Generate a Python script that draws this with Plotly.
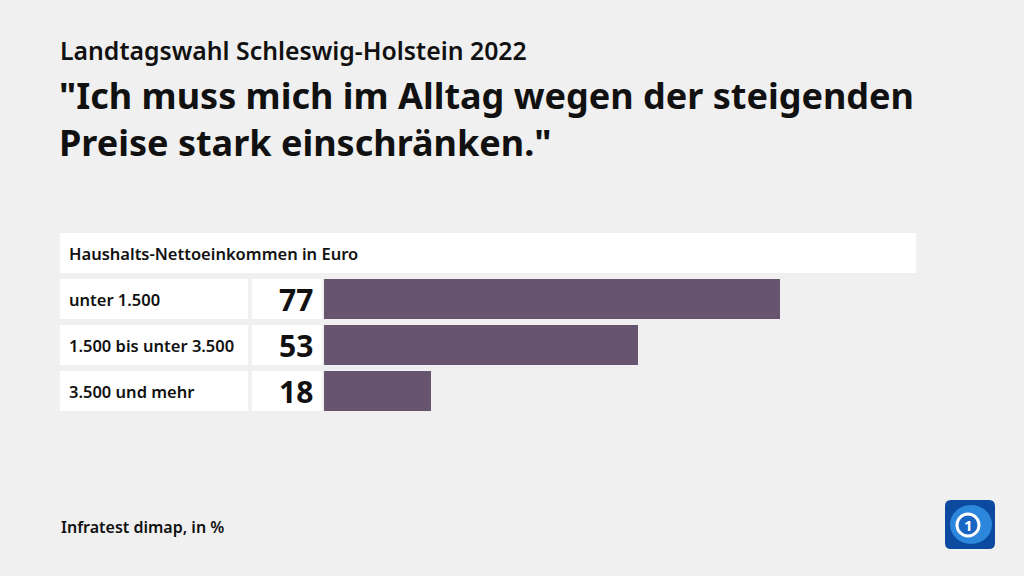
import plotly.graph_objects as go

categories = ["unter 1.500", "1.500 bis unter 3.500", "3.500 und mehr"]
values = [77, 53, 18]
group_label = "Haushalts-Nettoeinkommen in Euro"
supertitle = "Landtagswahl Schleswig-Holstein 2022"
title_lines = ["\"Ich muss mich im Alltag wegen der steigenden", "Preise stark einschränken.\""]
source = "Infratest dimap, in %"

W, H = 1024, 576
BG = "#f0f0f0"
BAR = "#67546f"
FONT = "Noto Sans"

def px(x):
    return x / W

def py(y):
    return 1 - y / H

fig = go.Figure()
fig.add_trace(go.Bar(
    x=values, y=categories, orientation="h",
    marker=dict(color=BAR, line=dict(width=0)),
    width=40 / 46, hoverinfo="skip",
))

shapes = []
annotations = []

# header box
shapes.append(dict(type="rect", xref="paper", yref="paper",
                   x0=px(60), x1=px(916), y0=py(273), y1=py(233),
                   fillcolor="white", line=dict(width=0), layer="below"))
annotations.append(dict(text=group_label, xref="paper", yref="paper",
                        x=px(67), y=py(253), xanchor="left", yanchor="middle",
                        showarrow=False, font=dict(family=FONT, size=16.5, color="#111", weight=600)))

for i, (c, v) in enumerate(zip(categories, values)):
    shapes.append(dict(type="rect", xref="paper", yref="y",
                       x0=px(60), x1=px(248), y0=i - 20 / 46, y1=i + 20 / 46,
                       fillcolor="white", line=dict(width=0), layer="below"))
    shapes.append(dict(type="rect", xref="paper", yref="y",
                       x0=px(252), x1=px(322), y0=i - 20 / 46, y1=i + 20 / 46,
                       fillcolor="white", line=dict(width=0), layer="below"))
    annotations.append(dict(text=c, xref="paper", yref="y", x=px(67), y=i,
                            xanchor="left", yanchor="middle", showarrow=False,
                            font=dict(family=FONT, size=16.5, color="#111", weight=600)))
    annotations.append(dict(text=f"<b>{v}</b>", xref="paper", yref="y", x=px(315), y=i,
                            xanchor="right", yanchor="middle", showarrow=False,
                            font=dict(family=FONT, size=30, color="#111")))

annotations.append(dict(text=supertitle, xref="paper", yref="paper", x=px(58), y=py(50),
                        xanchor="left", yanchor="middle", showarrow=False,
                        font=dict(family=FONT, size=24.8, color="#111", weight=600)))
annotations.append(dict(text="<br>".join("<b>" + l + "</b>" for l in title_lines),
                        xref="paper", yref="paper", x=px(57), y=py(119),
                        xanchor="left", yanchor="middle", showarrow=False, align="left",
                        font=dict(family=FONT, size=36, color="#111")))
annotations.append(dict(text=source, xref="paper", yref="paper", x=px(59), y=py(527),
                        xanchor="left", yanchor="middle", showarrow=False,
                        font=dict(family=FONT, size=16, color="#111", weight=600)))

# logo
x0, x1, y0, y1, r = 945, 995, 500, 549, 6
logo_path = (f"M {px(x0 + r)} {py(y0)} L {px(x1 - r)} {py(y0)} Q {px(x1)} {py(y0)} {px(x1)} {py(y0 + r)} "
             f"L {px(x1)} {py(y1 - r)} Q {px(x1)} {py(y1)} {px(x1 - r)} {py(y1)} "
             f"L {px(x0 + r)} {py(y1)} Q {px(x0)} {py(y1)} {px(x0)} {py(y1 - r)} "
             f"L {px(x0)} {py(y0 + r)} Q {px(x0)} {py(y0)} {px(x0 + r)} {py(y0)} Z")
shapes.append(dict(type="path", xref="paper", yref="paper", path=logo_path,
                   fillcolor="#0b4a9e", line=dict(width=0)))
shapes.append(dict(type="circle", xref="paper", yref="paper",
                   x0=px(950), x1=px(992), y0=py(544), y1=py(505),
                   fillcolor="#2c86dc", line=dict(width=0)))
shapes.append(dict(type="circle", xref="paper", yref="paper",
                   x0=px(957), x1=px(979), y0=py(536), y1=py(514),
                   fillcolor="#1a64c4", line=dict(color="white", width=3)))
annotations.append(dict(text="<b>1</b>", xref="paper", yref="paper", x=px(968), y=py(525),
                        xanchor="center", yanchor="middle", showarrow=False,
                        font=dict(family=FONT, size=15, color="white")))

fig.update_layout(
    width=W, height=H, paper_bgcolor=BG, plot_bgcolor=BG,
    margin=dict(l=0, r=0, t=0, b=0),
    showlegend=False, bargap=0,
    xaxis=dict(domain=[px(324), px(916)], range=[0, 100], visible=False, fixedrange=True),
    yaxis=dict(domain=[py(414), py(276)], range=[2.5, -0.5], visible=False, fixedrange=True,
               type="category", categoryorder="array", categoryarray=categories),
    shapes=shapes, annotations=annotations,
)

fig.write_html("out.html", config={"displayModeBar": False},
               post_script="document.body.style.margin='0px';")
